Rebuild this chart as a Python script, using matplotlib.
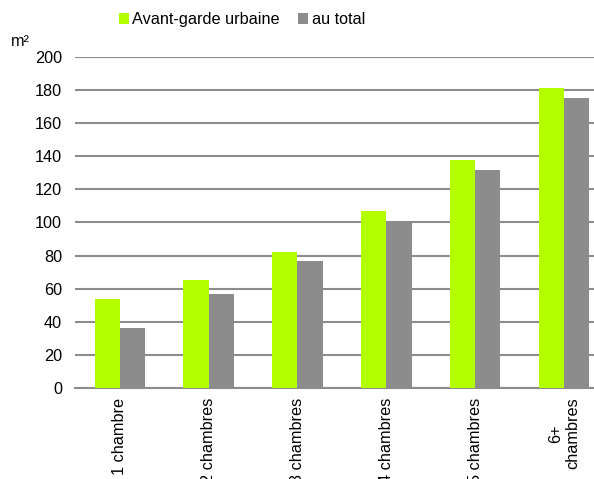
import numpy as np
import matplotlib.pyplot as plt

plt.rcParams['font.family'] = ['Liberation Sans', 'DejaVu Sans']

# data
categories = ["1 chambre", "2 chambres", "3 chambres", "4 chambres", "5 chambres", "6+\nchambres"]
avant_garde = [54, 65, 82, 107, 138, 181]
au_total = [36, 57, 77, 101, 132, 175]
y_ticks = [0, 20, 40, 60, 80, 100, 120, 140, 160, 180, 200]

green = "#b3ff00"
grey = "#8c8c8c"
fs = 11.7

fig = plt.figure(figsize=(5.94, 4.79), dpi=100)
# axes runs a bit past the right edge of the figure, as in the original
ax = fig.add_axes([0.127, 0.19, 0.897, 0.691])

x = np.arange(len(categories))
w = 0.285
ax.bar(x - w / 2, avant_garde, w, color=green, label="Avant-garde urbaine", zorder=3)
ax.bar(x + w / 2, au_total, w, color=grey, label="au total", zorder=3)

ax.set_xlim(-0.5, len(categories) - 0.5)
ax.set_ylim(0, 200)
ax.set_yticks(y_ticks)
ax.yaxis.grid(True, color=grey, linewidth=1.5, zorder=0)
ax.set_xticks(x)
# the long labels run off the bottom edge, like in the original chart
ax.set_xticklabels(categories, rotation=90, fontsize=fs, va="top", ha="center",
                   multialignment="center")
ax.tick_params(axis="y", labelsize=fs, length=0, pad=9.5)
ax.tick_params(axis="x", length=0, pad=7)

for s in ["left", "right", "top"]:
    ax.spines[s].set_visible(False)
ax.spines["bottom"].set_color(grey)
ax.spines["bottom"].set_linewidth(1.5)

fig.text(0.018, 0.905, "m²", fontsize=fs)

fig.legend(loc="upper left", bbox_to_anchor=(0.175, 1.005), ncol=2, frameon=False,
           fontsize=fs, handlelength=0.65, handleheight=0.65, handletextpad=0.2,
           columnspacing=1.1)

fig.savefig("out.png", dpi=100)
